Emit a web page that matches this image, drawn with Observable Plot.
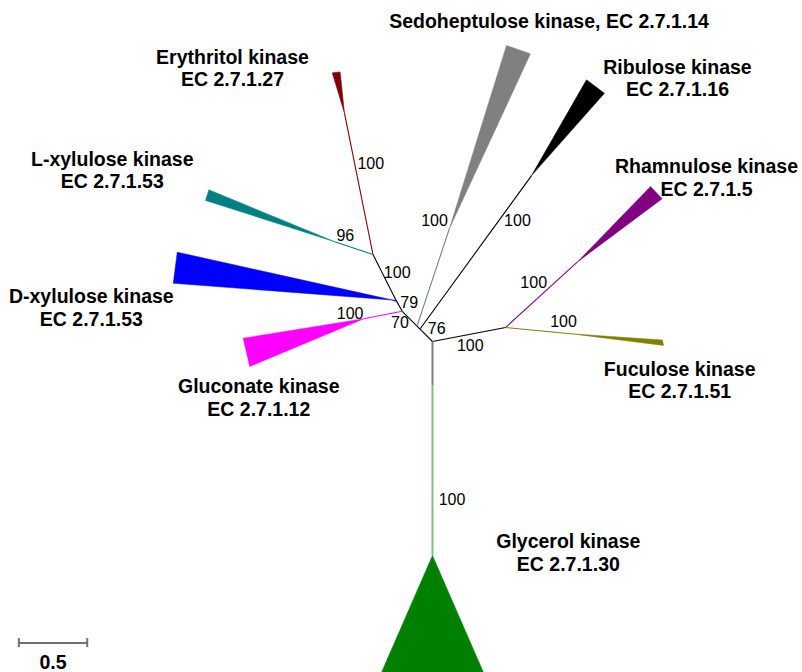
<!DOCTYPE html>
<html><head><meta charset="utf-8">
<script src="https://cdn.jsdelivr.net/npm/d3@7"></script>
<script src="https://cdn.jsdelivr.net/npm/@observablehq/plot@0.6"></script>
<style>body{margin:0;background:#fff}</style>
</head><body><div id="chart"></div>
<script>
// ---- Tree data (branch-length units, origin at the basal node) ----
// internal nodes
const nodeNames = ["R", "A", "B", "C", "D", "E", "F", "G"];
const nodeX = [0, -0.091, -0.113, -0.221, -0.263, -0.435, 0.534, 0];
const nodeY = [0, 0.091, 0.113, 0.221, 0.295, 0.636, 0.102, -0.322];

// internal branches
const edgeFrom = ["R", "A", "B", "C", "D", "R", "R"];
const edgeTo   = ["A", "B", "C", "D", "E", "F", "G"];
const edgeColor = ["#000000", "#000000", "#000000", "#000000", "#000000", "#000000", "#808080"];

// collapsed clades (triangles)
const cladeNames = ["Erythritol kinase\nEC 2.7.1.27", "L-xylulose kinase\nEC 2.7.1.53", "D-xylulose kinase\nEC 2.7.1.53",
  "Gluconate kinase\nEC 2.7.1.12", "Sedoheptulose kinase, EC 2.7.1.14", "Ribulose kinase\nEC 2.7.1.16",
  "Rhamnulose kinase\nEC 2.7.1.5", "Fuculose kinase\nEC 2.7.1.51", "Glycerol kinase\nEC 2.7.1.30"];
const cladeParent = ["E", "E", "D", "C", "B", "A", "F", "F", "G"];
const cladeColor = ["#800000", "#008080", "#0000ff", "#ff00ff", "#808080", "#000000", "#800080", "#808000", "#008000"];
const branchColor = ["#800000", "#008080", "#0000ff", "#ff00ff", "#808080", "#000000", "#800080", "#808000", "#80c080"];
const apexX = [-0.643, -0.709, -0.292, -0.502, 0.124, 0.724, 1.058, 1.009, 0];
const apexY = [1.667, 0.727, 0.303, 0.166, 0.826, 1.213, 0.580, 0.057, -1.564];
const tipAX = [-0.733, -1.635, -1.866, -1.384, 0.541, 1.126, 1.594, 1.681, -0.373];
const tipAY = [1.964, 1.109, 0.653, 0.024, 2.164, 1.913, 1.133, 0.011, -2.420];
const tipBX = [-0.675, -1.659, -1.895, -1.336, 0.716, 1.257, 1.679, 1.689, 0.373];
const tipBY = [1.971, 1.031, 0.426, -0.183, 2.103, 1.815, 1.043, -0.029, -2.420];
const labelX = [-1.462, -2.341, -2.494, -1.270, 0.852, 1.791, 2.003, 1.807, 0.993];
const labelY = [2.002, 1.255, 0.250, -0.409, 2.343, 1.929, 1.200, -0.279, -1.541];

// bootstrap values
const bootText = ["100", "100", "100", "100", "100", "100", "76", "70", "79", "100", "96", "100", "100"];
const bootX = [-0.451, 0.015, 0.621, 0.740, 0.958, 0.276, 0.031, -0.238, -0.170, -0.258, -0.637, -0.602, 0.143];
const bootY = [1.296, 0.882, 0.882, 0.432, 0.140, -0.031, 0.091, 0.137, 0.279, 0.502, 0.770, 0.200, -1.159];

// scale bar
const scaleLength = 0.5;
const scaleStartX = -3.024;
const scaleY = -2.205;
const scaleLabel = "0.5";

// ---- build tables ----
const nodes = new Map(nodeNames.map((n, i) => [n, {x: nodeX[i], y: nodeY[i]}]));
const edges = edgeFrom.map((f, i) => ({x1: nodes.get(f).x, y1: nodes.get(f).y, x2: nodes.get(edgeTo[i]).x, y2: nodes.get(edgeTo[i]).y, color: edgeColor[i]}));
const clades = cladeNames.map((n, i) => ({
  name: n, color: cladeColor[i], bcolor: branchColor[i],
  px: nodes.get(cladeParent[i]).x, py: nodes.get(cladeParent[i]).y,
  ax: apexX[i], ay: apexY[i],
  poly: [[apexX[i], apexY[i]], [tipAX[i], tipAY[i]], [tipBX[i], tipBY[i]], [apexX[i], apexY[i]]],
  lx: labelX[i], ly: labelY[i]
}));
const boots = bootText.map((t, i) => ({t, x: bootX[i], y: bootY[i]}));
const tickHalf = 0.033;

const font = "'Liberation Sans', Arial, Helvetica, sans-serif";

const chart = Plot.plot({
  width: 802,
  height: 672,
  margin: 0,
  style: {background: "#fff", fontFamily: font},
  x: {domain: [-3.158, 2.705], axis: null},
  y: {domain: [-2.420, 2.493], axis: null},
  color: {type: "identity"},
  marks: [
    ...clades.map(c => Plot.line(c.poly, {fill: c.color, stroke: c.color, strokeWidth: 0.5})),
    Plot.link(edges, {x1: "x1", y1: "y1", x2: "x2", y2: "y2", stroke: "color", strokeWidth: d => d.color === "#808080" ? 2 : 1.1}),
    Plot.link(clades, {x1: "px", y1: "py", x2: "ax", y2: "ay", stroke: "bcolor", strokeWidth: d => d.bcolor === "#80c080" ? 2 : 1.1}),
    Plot.text(clades, {x: "lx", y: "ly", text: "name", fontSize: 19.5, fontWeight: "bold", lineHeight: 1.16, fill: "#000", fontFamily: font}),
    Plot.text(boots, {x: "x", y: "y", text: "t", fontSize: 16, fill: "#000", fontFamily: font}),
    Plot.link([{x1: scaleStartX, x2: scaleStartX + scaleLength, y: scaleY}], {x1: "x1", x2: "x2", y1: "y", y2: "y", stroke: "#707070", strokeWidth: 2}),
    Plot.ruleX([scaleStartX, scaleStartX + scaleLength], {x: d => d, y1: scaleY - tickHalf, y2: scaleY + tickHalf, stroke: "#707070", strokeWidth: 2}),
    Plot.text([scaleLabel], {x: scaleStartX + scaleLength / 2, y: scaleY - 0.142, text: d => d, fontSize: 19.5, fontWeight: "bold", fill: "#000", fontFamily: font})
  ]
});
document.getElementById("chart").appendChild(chart);
</script>
</body></html>
